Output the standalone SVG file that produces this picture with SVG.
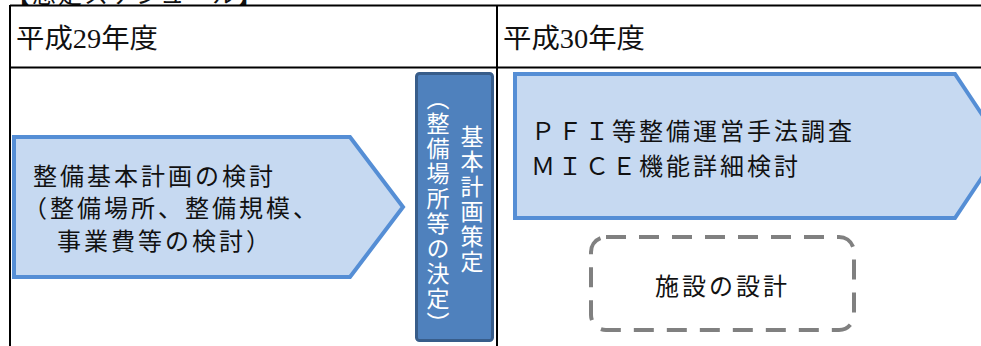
<svg xmlns="http://www.w3.org/2000/svg" width="981" height="346" viewBox="0 0 981 346">
<style>
.line{stroke:#000;stroke-width:2;fill:none}
.hdr{font-family:"Liberation Serif","Noto Sans CJK JP",serif;font-size:27px;fill:#111}
.t{font-family:"Noto Sans CJK JP",sans-serif;font-size:24px;fill:#111;letter-spacing:3px}
.arrow{fill:#C6D9F1;stroke:#558ED5;stroke-width:4;stroke-linejoin:miter}
.vt{font-family:"Noto Sans CJK JP",sans-serif;font-size:23px;fill:#fff;writing-mode:vertical-rl;letter-spacing:2px}
</style>
<rect width="981" height="346" fill="#fff"/>
<text x="6" y="3" style="font-family:'Noto Sans CJK JP',sans-serif;font-size:24px;fill:#111;letter-spacing:2px">【想定スケジュール】</text>
<g id="table">
<line class="line" x1="10" y1="5.5" x2="981" y2="5.5"/>
<line class="line" x1="10" y1="67.5" x2="981" y2="67.5"/>
<line class="line" x1="10" y1="5" x2="10" y2="346"/>
<line class="line" x1="497" y1="5" x2="497" y2="346"/>
<text class="hdr" x="16" y="48" textLength="142" lengthAdjust="spacingAndGlyphs">平成29年度</text>
<text class="hdr" x="503" y="48" textLength="142" lengthAdjust="spacingAndGlyphs">平成30年度</text>
</g>
<g id="node-kento">
<polygon class="arrow" points="14,137 350,137 403,207 350,277 14,277"/>
<text class="t" x="33" y="185">整備基本計画の検討</text>
<text class="t" x="23" y="217">（整備場所、整備規模、</text>
<text class="t" x="57" y="250">事業費等の検討）</text>
</g>
<g id="node-sakutei">
<rect x="416.5" y="73.5" width="76" height="267" rx="3" fill="#4F81BD" stroke="#385D8A" stroke-width="3"/>
<text class="vt" x="472" y="125">基本計画策定</text>
<text class="vt" x="438" y="87">（整備場所等の決定）</text>
</g>
<g id="node-pfi">
<polygon class="arrow" points="515,74 955,74 1003,146 955,218 515,218"/>
<text class="t" x="531" y="140">ＰＦＩ等整備運営手法調査</text>
<text class="t" x="531" y="175">ＭＩＣＥ機能詳細検討</text>
</g>
<g id="node-sekkei">
<rect x="591" y="237" width="263" height="93" rx="15" fill="none" stroke="#808080" stroke-width="4" stroke-dasharray="20 13"/>
<text class="t" x="655" y="295">施設の設計</text>
</g>
<g id="connectors"></g>
</svg>
